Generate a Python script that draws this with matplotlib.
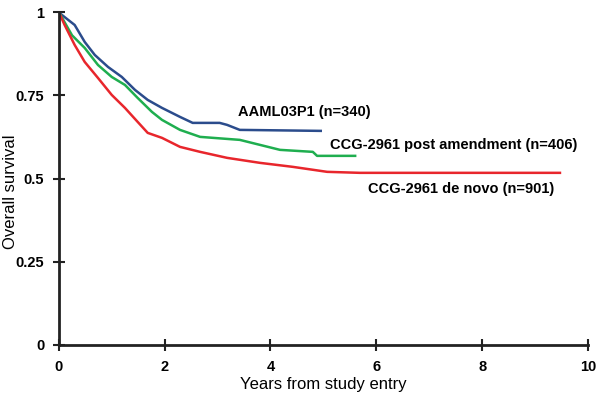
import numpy as np
import matplotlib
matplotlib.use("Agg")
import matplotlib.pyplot as plt

plt.rcParams['font.family'] = ['Liberation Sans', 'DejaVu Sans']

# Kaplan-Meier curves (years, survival)
aaml_t = [0, 0.06, 0.30, 0.49, 0.68, 0.93, 1.19, 1.44, 1.68, 1.95, 2.29, 2.53, 3.04, 3.18, 3.42, 4.95]
aaml_s = [1.0, 0.991, 0.961, 0.91, 0.871, 0.835, 0.805, 0.766, 0.736, 0.712, 0.685, 0.667, 0.667, 0.661, 0.646, 0.643]

post_t = [0, 0.25, 0.49, 0.74, 1.0, 1.25, 1.49, 1.76, 1.95, 2.29, 2.67, 3.42, 3.80, 4.18, 4.80, 4.88, 5.6]
post_s = [1.0, 0.93, 0.892, 0.841, 0.805, 0.781, 0.742, 0.70, 0.676, 0.646, 0.625, 0.616, 0.601, 0.586, 0.580, 0.568, 0.568]

denovo_t = [0, 0.11, 0.30, 0.49, 0.74, 1.0, 1.25, 1.49, 1.68, 1.95, 2.29, 2.67, 3.18, 3.80, 4.42, 5.07, 5.69, 9.47]
denovo_s = [1.0, 0.961, 0.901, 0.850, 0.802, 0.751, 0.712, 0.670, 0.637, 0.622, 0.595, 0.580, 0.562, 0.547, 0.535, 0.520, 0.517, 0.517]

xticks = [0, 2, 4, 6, 8, 10]
yticks = [0, 0.25, 0.5, 0.75, 1]
ytick_labels = ['0', '0.25', '0.5', '0.75', '1']

fig = plt.figure(figsize=(6, 4), dpi=100)
ax = fig.add_axes([0.098, 0.1375, 0.882, 0.8325])

ax.plot(aaml_t, aaml_s, color='#2b4c8c', lw=1.8)
ax.plot(post_t, post_s, color='#1fae4f', lw=1.8)
ax.plot(denovo_t, denovo_s, color='#e8262c', lw=1.8)

ax.text(3.38, 0.70, 'AAML03P1 (n=340)', fontsize=10.5, fontweight='bold', va='center')
ax.text(5.12, 0.60, 'CCG-2961 post amendment (n=406)', fontsize=10.5, fontweight='bold', va='center')
ax.text(5.84, 0.468, 'CCG-2961 de novo (n=901)', fontsize=10.5, fontweight='bold', va='center')

ax.set_xlim(0, 10)
ax.set_ylim(0, 1)
ax.set_xticks(xticks)
ax.set_yticks(yticks)
ax.set_yticklabels(ytick_labels)
for lab in ax.get_xticklabels() + ax.get_yticklabels():
    lab.set_fontweight('bold')
ax.tick_params(direction='inout', length=9, width=1.5, labelsize=10.5, color='#222222', pad=6)

for side in ['top', 'right']:
    ax.spines[side].set_visible(False)
for side in ['left', 'bottom']:
    ax.spines[side].set_linewidth(2)
    ax.spines[side].set_color('#222222')

ax.set_xlabel('Years from study entry', fontsize=12, va='center')
ax.xaxis.set_label_coords(0.5, -0.12)
ax.set_ylabel('Overall survival', fontsize=12, va='center')
ax.yaxis.set_label_coords(-0.092, 0.46)

fig.savefig('out.png', dpi=100)
